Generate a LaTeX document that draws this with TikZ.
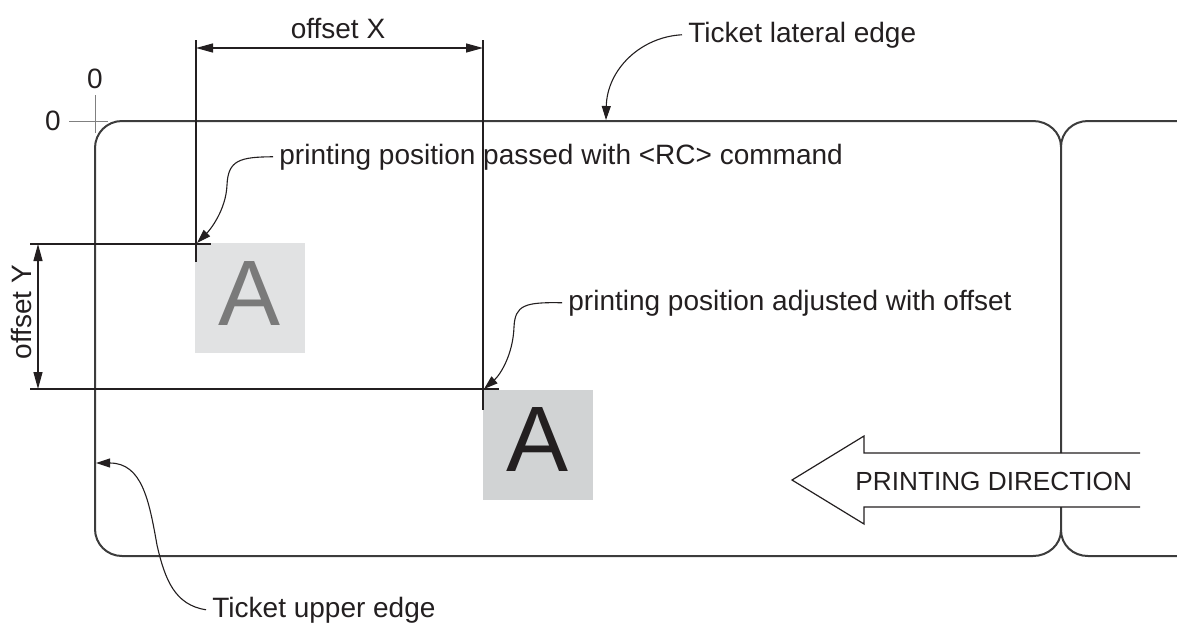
\documentclass[tikz,border=0pt]{standalone}
\usepackage{fontspec}
\setmainfont{Liberation Sans}
\usetikzlibrary{arrows.meta}
\definecolor{ink}{HTML}{231F20}
\definecolor{edgecol}{HTML}{3C3C3C}
\definecolor{boxlight}{HTML}{E1E2E3}
\definecolor{boxdark}{HTML}{D1D3D4}
\definecolor{glyphgray}{HTML}{7A7A7A}
\definecolor{tickgray}{HTML}{808080}
\begin{document}
\begin{tikzpicture}[x=0.5pt,y=-0.5pt,
  ticketline/.style={draw=edgecol,line width=1pt},
  lbl/.style={font=\fontsize{14}{16}\selectfont,text=ink,inner sep=0pt,inner xsep=3pt},
  leader/.style={draw=ink,line width=0.55pt,-{Triangle[length=7pt,width=4.5pt]}},
  dimarrow/.style={draw=ink,line width=0.6pt,{Triangle[length=8.5pt,width=4.5pt]}-{Triangle[length=8.5pt,width=4.5pt]}},
  extline/.style={draw=ink,line width=0.6pt},
  glyphbox/.style={minimum width=55pt,minimum height=55pt,inner sep=0pt,
    font=\fontsize{46.5}{50}\selectfont,text height=33.3pt,text depth=6.3pt}
]
\useasboundingbox (0,0) rectangle (1177,622);

% glyph boxes
\node[glyphbox,fill=boxlight,text=glyphgray] (a1) at (250,298) {A};
\node[glyphbox,fill=boxdark,text=ink] (a2) at (538,444.5) {A};

% ticket 1
\draw[ticketline] (1061,453) -- (1061,147) .. controls (1061,132) and (1048,121) .. (1033,121)
  -- (122,121) .. controls (107,121) and (95,133) .. (95,148)
  -- (95,529) .. controls (95,544) and (107,556) .. (122,556)
  -- (1033,556) .. controls (1048,556) and (1061,545) .. (1061,530) -- (1061,507);
% ticket 2
\draw[ticketline] (1177,121) -- (1088,121) .. controls (1073,121) and (1061,132) .. (1061,147);
\draw[ticketline] (1061,530) .. controls (1061,545) and (1073,556) .. (1088,556) -- (1177,556);

% origin cross
\draw[draw=tickgray,line width=0.5pt] (69,121) -- (108,121) (95,95) -- (95,133);
\node[lbl,anchor=base] (zy) at (95,88) {0};
\node[lbl,anchor=base] (zx) at (53,130) {0};

% extension lines
\draw[extline] (196,40) -- (196,262);
\draw[extline] (483,40) -- (483,410);
\draw[extline] (30,244) -- (211,244);
\draw[extline] (30,389) -- (499,389);

% dimensions
\coordinate (xl) at (196,48);
\coordinate (xr) at (483,48);
\draw[dimarrow] (xl) -- (xr);
\node[lbl,anchor=base] (offx) at (338,38) {offset X};
\coordinate (yt) at (38,244);
\coordinate (yb) at (38,389);
\draw[dimarrow] (yt) -- (yb);
\node[lbl,rotate=90,anchor=base] (offy) at (32,312) {offset Y};

% labels and leaders
\node[lbl,anchor=base west] (lat) at (682,42) {Ticket lateral edge};
\node[lbl,anchor=base west] (rc) at (273,164) {printing position passed with <RC> command};
\node[lbl,anchor=base west] (adj) at (562,310) {printing position adjusted with offset};
\node[lbl,anchor=base west] (upper) at (206,617) {Ticket upper edge};

\coordinate (latTip) at (606,120);
\coordinate (rcTip) at (197,243);
\coordinate (adjTip) at (484,389);
\coordinate (upTip) at (96,463);

\draw[leader] (lat.west) .. controls (640,37) and (607,70) .. (latTip);
\draw[leader] (rc.west) .. controls (240,157) and (228,160) .. (227,185)
  .. controls (226,210) and (210,230) .. (rcTip);
\draw[leader] (adj.west) .. controls (525,302) and (515,305) .. (514,327)
  .. controls (513,355) and (500,375) .. (adjTip);
\draw[leader] (upper.west) .. controls (175,605) and (165,580) .. (157,545)
  .. controls (149,500) and (142,463) .. (upTip);

% printing direction arrow
\draw[draw=ink,line width=0.6pt] (1140,453) -- (864,453) -- (864,436) -- (792,480)
  -- (864,524) -- (864,507) -- (1140,507);
\node[lbl,anchor=base west,font=\fontsize{13.1}{16}\selectfont] (dir) at (849,490) {PRINTING DIRECTION};
\end{tikzpicture}
\end{document}
